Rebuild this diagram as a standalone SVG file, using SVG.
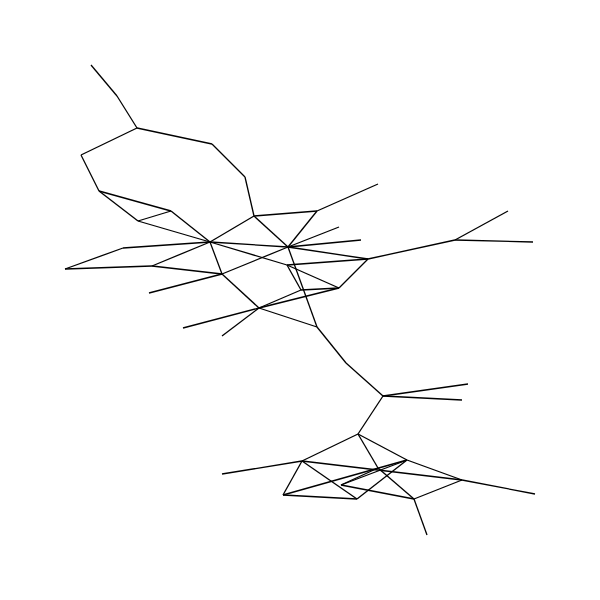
<svg xmlns="http://www.w3.org/2000/svg" width="600" height="600" viewBox="0 0 600 600">
<style>
.e line{stroke:#000;stroke-width:1.3;fill:none}
</style>
<rect width="600" height="600" fill="#fff"/>
<g id="connectors" class="e">
<line x1="91" y1="65" x2="117" y2="96"/>
<line x1="117" y1="96" x2="137" y2="128"/>
<line x1="137" y1="128" x2="81" y2="155"/>
<line x1="137" y1="128" x2="212" y2="144"/>
<line x1="212" y1="144" x2="245" y2="177"/>
<line x1="245" y1="177" x2="254" y2="216"/>
<line x1="81" y1="155" x2="99" y2="191"/>
<line x1="99" y1="191" x2="171" y2="211"/>
<line x1="99" y1="191" x2="138" y2="221"/>
<line x1="138" y1="221" x2="171" y2="211"/>
<line x1="171" y1="211" x2="210" y2="242"/>
<line x1="138" y1="221" x2="210" y2="242"/>
<line x1="210" y1="242" x2="254" y2="216"/>
<line x1="210" y1="242" x2="288" y2="247"/>
<line x1="210" y1="242" x2="287" y2="265"/>
<line x1="210" y1="242" x2="123" y2="248"/>
<line x1="210" y1="242" x2="152" y2="266"/>
<line x1="210" y1="242" x2="222" y2="274"/>
<line x1="123" y1="248" x2="65" y2="269"/>
<line x1="65" y1="269" x2="152" y2="266"/>
<line x1="152" y1="266" x2="222" y2="274"/>
<line x1="149" y1="293" x2="222" y2="274"/>
<line x1="222" y1="274" x2="288" y2="247"/>
<line x1="222" y1="274" x2="259" y2="308"/>
<line x1="254" y1="216" x2="317" y2="211"/>
<line x1="254" y1="216" x2="288" y2="247"/>
<line x1="317" y1="211" x2="288" y2="247"/>
<line x1="317" y1="211" x2="378" y2="184"/>
<line x1="288" y1="247" x2="339" y2="227"/>
<line x1="288" y1="247" x2="361" y2="240"/>
<line x1="288" y1="247" x2="368" y2="259"/>
<line x1="288" y1="247" x2="317" y2="327"/>
<line x1="287" y1="265" x2="368" y2="259"/>
<line x1="287" y1="265" x2="339" y2="288"/>
<line x1="287" y1="265" x2="301" y2="290"/>
<line x1="368" y1="259" x2="339" y2="288"/>
<line x1="368" y1="259" x2="455" y2="240"/>
<line x1="455" y1="240" x2="508" y2="211"/>
<line x1="455" y1="240" x2="533" y2="242"/>
<line x1="301" y1="290" x2="339" y2="288"/>
<line x1="259" y1="308" x2="339" y2="288"/>
<line x1="259" y1="308" x2="301" y2="290"/>
<line x1="259" y1="308" x2="183" y2="328"/>
<line x1="259" y1="308" x2="222" y2="336"/>
<line x1="259" y1="308" x2="317" y2="327"/>
<line x1="317" y1="327" x2="346" y2="363"/>
<line x1="346" y1="363" x2="383" y2="396"/>
<line x1="383" y1="396" x2="468" y2="384"/>
<line x1="383" y1="396" x2="462" y2="400"/>
<line x1="383" y1="396" x2="358" y2="434"/>
<line x1="358" y1="434" x2="302" y2="461"/>
<line x1="358" y1="434" x2="407" y2="460"/>
<line x1="358" y1="434" x2="378" y2="468"/>
<line x1="302" y1="461" x2="222" y2="474"/>
<line x1="302" y1="461" x2="283" y2="495"/>
<line x1="302" y1="461" x2="357" y2="499"/>
<line x1="302" y1="461" x2="462" y2="480"/>
<line x1="283" y1="495" x2="357" y2="499"/>
<line x1="283" y1="495" x2="407" y2="460"/>
<line x1="341" y1="485" x2="407" y2="460"/>
<line x1="341" y1="485" x2="378" y2="468"/>
<line x1="341" y1="485" x2="414" y2="499"/>
<line x1="357" y1="499" x2="407" y2="460"/>
<line x1="378" y1="468" x2="414" y2="499"/>
<line x1="407" y1="460" x2="462" y2="480"/>
<line x1="414" y1="499" x2="462" y2="480"/>
<line x1="414" y1="499" x2="427" y2="535"/>
<line x1="462" y1="480" x2="535" y2="494"/>
</g>
</svg>
